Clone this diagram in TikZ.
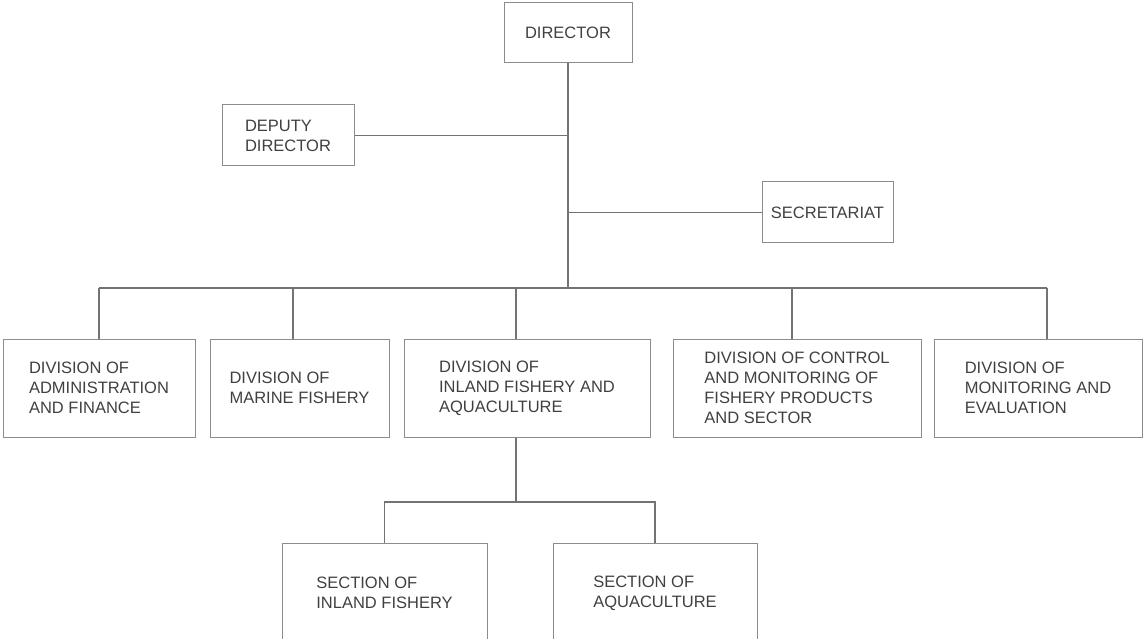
\documentclass[tikz,border=0pt]{standalone}
\usepackage{fontspec}
\setmainfont{Liberation Sans}

\begin{document}
\begin{tikzpicture}[x=1pt,y=-1pt,
	unit/.style={
		% The shape:
		rectangle,
		inner sep=0pt,
		% The border:
		line width=1pt,
		draw=black!45,
		% Font
		font=\fontsize{16.5}{20}\selectfont,
		text=black!75,
		align=left
		},
	division/.style={unit,minimum height=98},
	link/.style={draw=black!55,line width=1.1pt}]

	\useasboundingbox (0,0) rectangle (1144,639);

	\node (director) [unit,minimum width=128,minimum height=60] at (568,33) {DIRECTOR};
	\node (deputy) [unit,minimum width=132,minimum height=61] at (288,135.5) {DEPUTY\\DIRECTOR};
	\node (secretariat) [unit,minimum width=131,minimum height=61] at (827.5,212.5) {SECRETARIAT};

	\node (admin) [division,minimum width=192] at (99,388) {DIVISION OF\\ADMINISTRATION\\AND FINANCE};
	\node (marine) [division,minimum width=179] at (299.5,388) {DIVISION OF\\MARINE FISHERY};
	\node (inland) [division,minimum width=246] at (527,388) {DIVISION OF\\INLAND FISHERY AND\\AQUACULTURE};
	\node (control) [division,minimum width=248] at (797,388) {DIVISION OF CONTROL\\AND MONITORING OF\\FISHERY PRODUCTS\\AND SECTOR};
	\node (monitoring) [division,minimum width=208] at (1038,388) {DIVISION OF\\MONITORING AND\\EVALUATION};

	\node (secinland) [unit,minimum width=205,minimum height=100] at (384.5,593) {SECTION OF\\INLAND FISHERY};
	\node (secaqua) [unit,minimum width=204,minimum height=100] at (655,593) {SECTION OF\\AQUACULTURE};

	% bus points above the divisions
	\coordinate (d1) at (99,288);
	\coordinate (d2) at (293,288);
	\coordinate (d3) at (516,288);
	\coordinate (d4) at (792,288);
	\coordinate (d5) at (1047,288);
	\coordinate (s0) at (516,502);

	\draw[link] (director) -- (director |- d1); % trunk
	\draw[link] (deputy) -- (deputy -| director);
	\draw[link] (secretariat) -- (secretariat -| director);
	\draw[link] (d1) -- (d5);
	\foreach \d/\n in {d1/admin,d2/marine,d3/inland,d4/control,d5/monitoring}
		\draw[link] (\d) -- (\d |- \n.north);

	\draw[link] (s0 |- inland.south) -- (s0);
	\draw[link] (secinland) |- (s0);
	\draw[link] (secaqua) |- (s0);

\end{tikzpicture}
\end{document}
